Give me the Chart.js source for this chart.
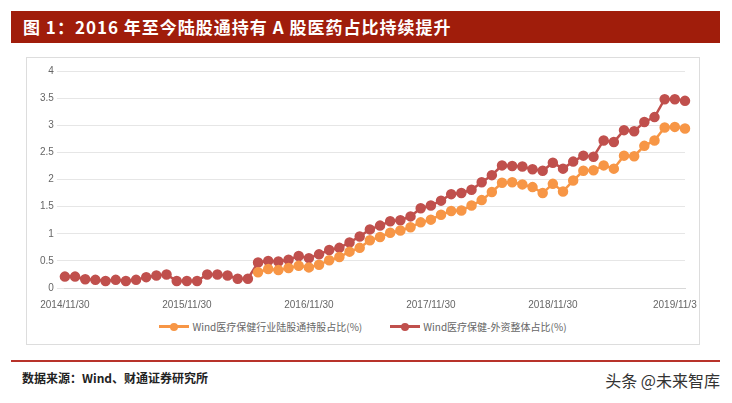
<!DOCTYPE html>
<html><head><meta charset="utf-8">
<script src="https://cdn.jsdelivr.net/npm/chart.js@4"></script>
<style>
body{margin:0;width:732px;height:403px;background:#fff;font-family:"Noto Sans CJK SC",sans-serif;position:relative;overflow:hidden}
#title{position:absolute;left:11px;top:11px;width:709px;height:32px;background:#A01D0B;color:#fff;font-size:17px;font-weight:bold;line-height:32px;padding-left:12px;box-sizing:border-box;letter-spacing:1px}
#box{position:absolute;left:26px;top:57px;width:674px;height:288px;border:1px solid #ddd;box-sizing:border-box}
#wrap{position:absolute;left:0;top:0;width:672px;height:256px}
#legend{position:absolute;left:0;top:258px;width:672px;text-align:center;font-size:10px;color:#666}
#legend span{margin:0 14px;display:inline-flex;align-items:center}
#legend i{display:inline-block;width:30px;height:3px;margin-right:3px;position:relative}
#legend i:after{content:"";position:absolute;left:11px;top:-2.5px;width:8px;height:8px;border-radius:50%;background:inherit}
#rule{position:absolute;left:11px;top:360px;width:709px;height:2px;background:#B8322A}
#src{position:absolute;left:22px;top:369px;font-size:12px;font-weight:bold;color:#222}
#wm{position:absolute;right:12px;top:368px;font-size:16px;color:#333}
</style></head><body>
<div id="title">图 1：2016 年至今陆股通持有 A 股医药占比持续提升</div>
<div id="box"><div id="wrap"><canvas id="c"></canvas></div>
<div id="legend"><span><i style="background:#F79646"></i>Wind医疗保健行业陆股通持股占比(%)</span><span><i style="background:#C0504D"></i>Wind医疗保健-外资整体占比(%)</span></div></div>
<div id="rule"></div>
<div id="src">数据来源：Wind、财通证券研究所</div>
<div id="wm">头条 @未来智库</div>
<script>
// monthly month-end dates 2014/11 .. 2019/12
const months = [];
for (let y = 2014, m = 11; y < 2020; m++) { if (m > 12) { m = 1; y++; } if (y === 2020) break; months.push(y + "/" + m + "/30"); }
const tickLabels = ["2014/11/30", "2015/11/30", "2016/11/30", "2017/11/30", "2018/11/30", "2019/11/3"];

const foreignTotal = [0.21,0.21,0.16,0.15,0.13,0.15,0.13,0.15,0.2,0.23,0.25,0.13,0.13,0.13,0.25,0.25,0.23,0.17,0.17,
  0.47,0.5,0.49,0.52,0.59,0.55,0.62,0.7,0.74,0.84,0.95,1.08,
  1.15,1.23,1.25,1.32,1.47,1.52,1.61,1.73,1.75,1.81,1.95,2.08,2.26,2.25,2.24,2.19,2.16,2.31,2.2,2.33,2.44,2.42,2.72,2.69,2.91,2.89,3.06,3.15,3.48,3.48,3.45];
const connectShare = [null,null,null,null,null,null,null,null,null,null,null,null,null,null,null,null,null,null,null,
  0.29,0.35,0.33,0.37,0.41,0.38,0.43,0.51,0.57,0.67,0.74,0.88,
  0.94,1.02,1.06,1.12,1.21,1.26,1.35,1.42,1.43,1.52,1.62,1.77,1.94,1.95,1.91,1.86,1.75,1.92,1.78,1.98,2.16,2.17,2.26,2.2,2.44,2.43,2.62,2.72,2.96,2.97,2.94];

const ds = (label, data, color) => ({ label, data, borderColor: color, backgroundColor: color, borderWidth: 2.5, pointRadius: 4, pointHoverRadius: 4, tension: 0 });

new Chart(document.getElementById("c"), {
  type: "line",
  data: { labels: months, datasets: [ds("Wind医疗保健行业陆股通持股占比(%)", connectShare, "#F79646"), ds("Wind医疗保健-外资整体占比(%)", foreignTotal, "#C0504D")] },
  options: {
    responsive: true, maintainAspectRatio: false, animation: false,
    layout: { padding: { left: 10, right: 14, top: 13 } },
    plugins: { legend: { display: false }, tooltip: { enabled: false } },
    scales: {
      x: { offset: false, grid: { display: false }, border: { color: "#d8d8d8" },
        ticks: { autoSkip: false, maxRotation: 0, color: "#666", font: { size: 10 },
          callback: (v, i) => i % 12 === 0 ? tickLabels[i / 12] : "" } },
      y: { min: 0, max: 4, grid: { color: "#e6e6e6" }, border: { display: false },
        ticks: { stepSize: 0.5, color: "#666", font: { size: 10 }, callback: v => String(v) } }
    }
  }
});
</script>
</body></html>
